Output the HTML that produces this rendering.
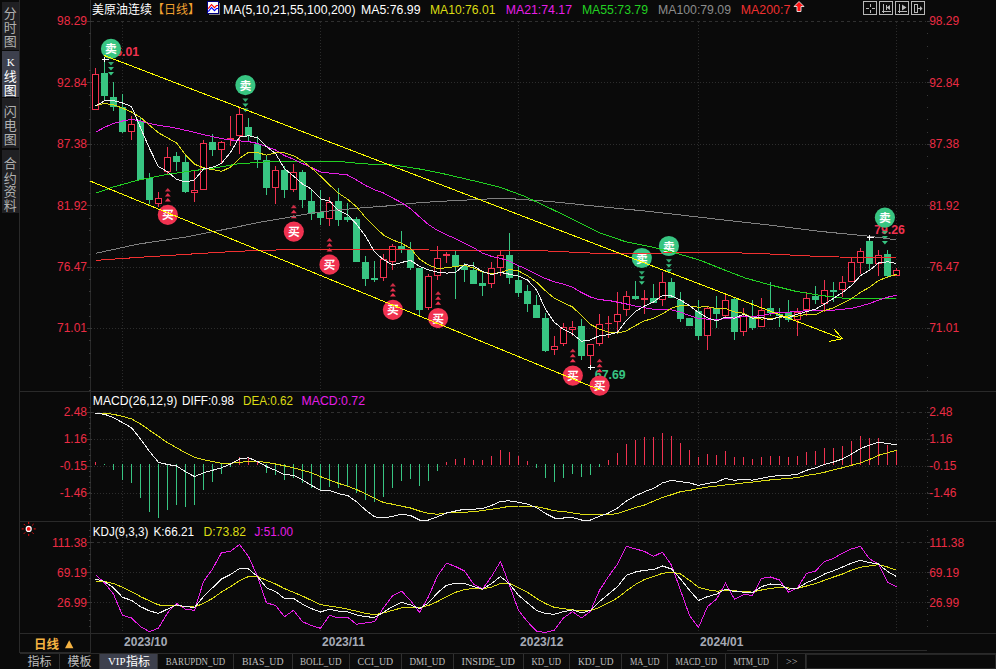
<!DOCTYPE html>
<html><head><meta charset="utf-8"><title>chart</title>
<style>html,body{margin:0;padding:0;background:#0a0a0a;overflow:hidden}svg{display:block}text{font-family:"Liberation Sans","Noto Sans CJK SC",sans-serif;white-space:pre}</style>
</head><body>
<svg width="996" height="669" viewBox="0 0 996 669">
<rect width="996" height="669" fill="#0a0a0a"/>
<g shape-rendering="crispEdges">
<rect x="2" y="2" width="18" height="48" fill="#202023"/>
<rect x="2" y="51" width="18" height="46" fill="#3d404d"/>
<rect x="2" y="98" width="18" height="50" fill="#202023"/>
<rect x="2" y="150" width="18" height="63" fill="#202023"/>
</g>
<text x="3.7" y="17.6" fill="#b0b0b0" font-size="13">分</text><text x="3.7" y="32.3" fill="#b0b0b0" font-size="13">时</text><text x="3.7" y="46.3" fill="#b0b0b0" font-size="13">图</text>
<text x="3.7" y="81.3" fill="#ffffff" font-size="13">线</text><text x="3.7" y="95.3" fill="#ffffff" font-size="13">图</text>
<text x="10.7" y="66.0" fill="#ffffff" font-size="11" text-anchor="middle" style="font-family:'Liberation Serif'">K</text>
<text x="3.7" y="115.8" fill="#b0b0b0" font-size="13">闪</text><text x="3.7" y="130.3" fill="#b0b0b0" font-size="13">电</text><text x="3.7" y="144.0" fill="#b0b0b0" font-size="13">图</text>
<text x="3.7" y="168.3" fill="#b0b0b0" font-size="13">合</text><text x="3.7" y="182.6" fill="#b0b0b0" font-size="13">约</text><text x="3.7" y="196.3" fill="#b0b0b0" font-size="13">资</text><text x="3.7" y="210.0" fill="#b0b0b0" font-size="13">料</text>
<g shape-rendering="crispEdges" stroke="#2a2a2a" stroke-width="1" fill="none">
<path d="M19.5 0V653 M90.5 0V652.5"/>
<path d="M20 391.5H996 M20 521.5H996 M20 633.5H996 M20 652.5H90 M727 650.5H927"/>
</g>
<g shape-rendering="crispEdges" stroke="#2d2d2d" stroke-width="1" fill="none">
<path d="M91 21.5H926" stroke-dasharray="3 3" stroke="#303030"/>
<path d="M91 82.5H926" stroke-dasharray="1 2"/>
<path d="M91 144.5H926" stroke-dasharray="1 2"/>
<path d="M91 205.5H926" stroke-dasharray="1 2"/>
<path d="M91 267.5H926" stroke-dasharray="1 2"/>
<path d="M91 328.5H926" stroke-dasharray="1 2"/>
<path d="M91 412.5H926" stroke-dasharray="3 3" stroke="#303030"/>
<path d="M91 439.5H926" stroke-dasharray="1 2"/>
<path d="M91 466.5H926" stroke-dasharray="1 2"/>
<path d="M91 493.5H926" stroke-dasharray="1 2"/>
<path d="M91 542.5H926" stroke-dasharray="3 3" stroke="#303030"/>
<path d="M91 572.5H926" stroke-dasharray="1 2"/>
<path d="M91 602.5H926" stroke-dasharray="1 2"/>
<path d="M122.5 22V391 M122.5 392V521 M122.5 522V633" stroke-dasharray="1 2" stroke="#2b2b2b"/>
<path d="M320.5 22V391 M320.5 392V521 M320.5 522V633" stroke-dasharray="1 2" stroke="#2b2b2b"/>
<path d="M518.5 22V391 M518.5 392V521 M518.5 522V633" stroke-dasharray="1 2" stroke="#2b2b2b"/>
<path d="M698.5 22V391 M698.5 392V521 M698.5 522V633" stroke-dasharray="1 2" stroke="#2b2b2b"/>
<path d="M896.5 22V391 M896.5 392V521 M896.5 522V633" stroke-dasharray="1 2" stroke="#2b2b2b"/>
<path d="M89 21.5H91 M927 21.5H928 M89 33.5H91 M927 33.5H928 M89 46.5H91 M927 46.5H928 M89 58.5H91 M927 58.5H928 M89 70.5H91 M927 70.5H928 M89 82.5H91 M927 82.5H928 M89 95.5H91 M927 95.5H928 M89 107.5H91 M927 107.5H928 M89 119.5H91 M927 119.5H928 M89 132.5H91 M927 132.5H928 M89 144.5H91 M927 144.5H928 M89 156.5H91 M927 156.5H928 M89 168.5H91 M927 168.5H928 M89 181.5H91 M927 181.5H928 M89 193.5H91 M927 193.5H928 M89 205.5H91 M927 205.5H928 M89 218.5H91 M927 218.5H928 M89 230.5H91 M927 230.5H928 M89 242.5H91 M927 242.5H928 M89 254.5H91 M927 254.5H928 M89 267.5H91 M927 267.5H928 M89 279.5H91 M927 279.5H928 M89 291.5H91 M927 291.5H928 M89 304.5H91 M927 304.5H928 M89 316.5H91 M927 316.5H928 M89 328.5H91 M927 328.5H928 M89 340.5H91 M927 340.5H928 M89 353.5H91 M927 353.5H928 M89 365.5H91 M927 365.5H928 M89 377.5H91 M927 377.5H928 M89 390.5H91 M927 390.5H928 M89 407.5H91 M927 407.5H928 M89 412.5H91 M927 412.5H928 M89 417.5H91 M927 417.5H928 M89 423.5H91 M927 423.5H928 M89 428.5H91 M927 428.5H928 M89 433.5H91 M927 433.5H928 M89 439.5H91 M927 439.5H928 M89 444.5H91 M927 444.5H928 M89 449.5H91 M927 449.5H928 M89 455.5H91 M927 455.5H928 M89 460.5H91 M927 460.5H928 M89 466.5H91 M927 466.5H928 M89 471.5H91 M927 471.5H928 M89 476.5H91 M927 476.5H928 M89 482.5H91 M927 482.5H928 M89 487.5H91 M927 487.5H928 M89 492.5H91 M927 492.5H928 M89 498.5H91 M927 498.5H928 M89 503.5H91 M927 503.5H928 M89 508.5H91 M927 508.5H928 M89 514.5H91 M927 514.5H928 M89 530.5H91 M927 530.5H928 M89 536.5H91 M927 536.5H928 M89 542.5H91 M927 542.5H928 M89 548.5H91 M927 548.5H928 M89 554.5H91 M927 554.5H928 M89 560.5H91 M927 560.5H928 M89 566.5H91 M927 566.5H928 M89 572.5H91 M927 572.5H928 M89 578.5H91 M927 578.5H928 M89 584.5H91 M927 584.5H928 M89 590.5H91 M927 590.5H928 M89 596.5H91 M927 596.5H928 M89 602.5H91 M927 602.5H928 M89 608.5H91 M927 608.5H928 M89 614.5H91 M927 614.5H928 M89 620.5H91 M927 620.5H928 M89 626.5H91 M927 626.5H928 M87 21.5H92 M927 21.5H930 M87 82.5H92 M927 82.5H930 M87 144.5H92 M927 144.5H930 M87 205.5H92 M927 205.5H930 M87 267.5H92 M927 267.5H930 M87 328.5H92 M927 328.5H930 M87 412.5H92 M927 412.5H930 M87 439.5H92 M927 439.5H930 M87 466.5H92 M927 466.5H930 M87 493.5H92 M927 493.5H930 M87 542.5H92 M927 542.5H930 M87 572.5H92 M927 572.5H930 M87 602.5H92 M927 602.5H930" stroke="#383838"/>
</g>
<g font-size="12">
<text x="87.0" y="25.3" fill="#ea2c44" font-size="12" text-anchor="end">98.29</text>
<text x="929.2" y="25.3" fill="#ea2c44" font-size="12">98.29</text>
<text x="87.0" y="86.7" fill="#ea2c44" font-size="12" text-anchor="end">92.84</text>
<text x="929.2" y="86.7" fill="#ea2c44" font-size="12">92.84</text>
<text x="87.0" y="148.1" fill="#ea2c44" font-size="12" text-anchor="end">87.38</text>
<text x="929.2" y="148.1" fill="#ea2c44" font-size="12">87.38</text>
<text x="87.0" y="209.6" fill="#ea2c44" font-size="12" text-anchor="end">81.92</text>
<text x="929.2" y="209.6" fill="#ea2c44" font-size="12">81.92</text>
<text x="87.0" y="271.0" fill="#ea2c44" font-size="12" text-anchor="end">76.47</text>
<text x="929.2" y="271.0" fill="#ea2c44" font-size="12">76.47</text>
<text x="87.0" y="332.4" fill="#ea2c44" font-size="12" text-anchor="end">71.01</text>
<text x="929.2" y="332.4" fill="#ea2c44" font-size="12">71.01</text>
<text x="87.0" y="416.3" fill="#ea2c44" font-size="12" text-anchor="end">2.48</text>
<text x="929.2" y="416.3" fill="#ea2c44" font-size="12">2.48</text>
<text x="87.0" y="443.3" fill="#ea2c44" font-size="12" text-anchor="end">1.16</text>
<text x="929.2" y="443.3" fill="#ea2c44" font-size="12">1.16</text>
<text x="87.0" y="470.3" fill="#ea2c44" font-size="12" text-anchor="end">-0.15</text>
<text x="929.2" y="470.3" fill="#ea2c44" font-size="12">-0.15</text>
<text x="87.0" y="497.3" fill="#ea2c44" font-size="12" text-anchor="end">-1.46</text>
<text x="929.2" y="497.3" fill="#ea2c44" font-size="12">-1.46</text>
<text x="87.0" y="546.7" fill="#ea2c44" font-size="12" text-anchor="end">111.38</text>
<text x="929.2" y="546.7" fill="#ea2c44" font-size="12">111.38</text>
<text x="87.0" y="576.7" fill="#ea2c44" font-size="12" text-anchor="end">69.19</text>
<text x="929.2" y="576.7" fill="#ea2c44" font-size="12">69.19</text>
<text x="87.0" y="606.7" fill="#ea2c44" font-size="12" text-anchor="end">26.99</text>
<text x="929.2" y="606.7" fill="#ea2c44" font-size="12">26.99</text>
</g>
<text x="108.3" y="56.0" fill="#f03250" font-size="12.3" font-weight="bold">96.01</text>
<text x="594.8" y="378.5" fill="#38c582" font-size="12.3" font-weight="bold">67.69</text>
<text x="874.2" y="234.0" fill="#f03250" font-size="12.3" font-weight="bold">79.26</text>
<g shape-rendering="crispEdges">
<rect x="95" y="68" width="1" height="6" fill="#f03250"/>
<rect x="92.5" y="74.5" width="6" height="35" fill="#000" stroke="#f03250" stroke-width="1"/>
<rect x="104" y="59" width="1" height="41" fill="#38c582"/>
<rect x="101" y="73" width="7" height="23" fill="#38c582"/>
<rect x="113" y="82" width="1" height="29" fill="#38c582"/>
<rect x="110" y="97" width="7" height="10" fill="#38c582"/>
<rect x="122" y="94" width="1" height="39" fill="#38c582"/>
<rect x="119" y="107" width="7" height="25" fill="#38c582"/>
<rect x="131" y="116" width="1" height="8" fill="#f03250"/>
<rect x="131" y="132" width="1" height="8" fill="#f03250"/>
<rect x="128.5" y="124.5" width="6" height="7" fill="#000" stroke="#f03250" stroke-width="1"/>
<rect x="140" y="118" width="1" height="62" fill="#38c582"/>
<rect x="137" y="121" width="7" height="59" fill="#38c582"/>
<rect x="149" y="173" width="1" height="31" fill="#38c582"/>
<rect x="146" y="178" width="7" height="22" fill="#38c582"/>
<rect x="158" y="192" width="1" height="6" fill="#f03250"/>
<rect x="158" y="204" width="1" height="3" fill="#f03250"/>
<rect x="155.5" y="198.5" width="6" height="5" fill="#000" stroke="#f03250" stroke-width="1"/>
<rect x="167" y="147" width="1" height="10" fill="#f03250"/>
<rect x="167" y="172" width="1" height="2" fill="#f03250"/>
<rect x="164.5" y="157.5" width="6" height="14" fill="#000" stroke="#f03250" stroke-width="1"/>
<rect x="176" y="152" width="1" height="19" fill="#38c582"/>
<rect x="173" y="156" width="7" height="6" fill="#38c582"/>
<rect x="185" y="156" width="1" height="37" fill="#38c582"/>
<rect x="182" y="162" width="7" height="30" fill="#38c582"/>
<rect x="194" y="170" width="1" height="20" fill="#f03250"/>
<rect x="194" y="193" width="1" height="9" fill="#f03250"/>
<rect x="191.5" y="190.5" width="6" height="2" fill="#000" stroke="#f03250" stroke-width="1"/>
<rect x="203" y="140" width="1" height="3" fill="#f03250"/>
<rect x="200.5" y="143.5" width="6" height="46" fill="#000" stroke="#f03250" stroke-width="1"/>
<rect x="212" y="134" width="1" height="22" fill="#38c582"/>
<rect x="209" y="142" width="7" height="8" fill="#38c582"/>
<rect x="221" y="141" width="1" height="1" fill="#f03250"/>
<rect x="221" y="150" width="1" height="14" fill="#f03250"/>
<rect x="218.5" y="142.5" width="6" height="7" fill="#000" stroke="#f03250" stroke-width="1"/>
<rect x="230" y="116" width="1" height="22" fill="#f03250"/>
<rect x="230" y="140" width="1" height="6" fill="#f03250"/>
<rect x="227" y="138" width="7" height="2" fill="#f03250"/>
<rect x="239" y="108" width="1" height="6" fill="#f03250"/>
<rect x="239" y="136" width="1" height="18" fill="#f03250"/>
<rect x="236.5" y="114.5" width="6" height="21" fill="#000" stroke="#f03250" stroke-width="1"/>
<rect x="248" y="118" width="1" height="24" fill="#38c582"/>
<rect x="245" y="127" width="7" height="9" fill="#38c582"/>
<rect x="257" y="136" width="1" height="32" fill="#38c582"/>
<rect x="254" y="144" width="7" height="16" fill="#38c582"/>
<rect x="266" y="156" width="1" height="39" fill="#38c582"/>
<rect x="263" y="160" width="7" height="28" fill="#38c582"/>
<rect x="275" y="166" width="1" height="4" fill="#f03250"/>
<rect x="275" y="188" width="1" height="16" fill="#f03250"/>
<rect x="272.5" y="170.5" width="6" height="17" fill="#000" stroke="#f03250" stroke-width="1"/>
<rect x="284" y="166" width="1" height="32" fill="#38c582"/>
<rect x="281" y="170" width="7" height="20" fill="#38c582"/>
<rect x="293" y="164" width="1" height="8" fill="#f03250"/>
<rect x="293" y="190" width="1" height="2" fill="#f03250"/>
<rect x="290.5" y="172.5" width="6" height="17" fill="#000" stroke="#f03250" stroke-width="1"/>
<rect x="302" y="170" width="1" height="38" fill="#38c582"/>
<rect x="299" y="172" width="7" height="28" fill="#38c582"/>
<rect x="311" y="190" width="1" height="30" fill="#38c582"/>
<rect x="308" y="201" width="7" height="13" fill="#38c582"/>
<rect x="320" y="190" width="1" height="35" fill="#38c582"/>
<rect x="317" y="212" width="7" height="6" fill="#38c582"/>
<rect x="329" y="197" width="1" height="5" fill="#f03250"/>
<rect x="329" y="219" width="1" height="7" fill="#f03250"/>
<rect x="326.5" y="202.5" width="6" height="16" fill="#000" stroke="#f03250" stroke-width="1"/>
<rect x="338" y="188" width="1" height="38" fill="#38c582"/>
<rect x="335" y="201" width="7" height="19" fill="#38c582"/>
<rect x="347" y="203" width="1" height="19" fill="#38c582"/>
<rect x="344" y="217" width="7" height="3" fill="#38c582"/>
<rect x="356" y="217" width="1" height="45" fill="#38c582"/>
<rect x="353" y="219" width="7" height="43" fill="#38c582"/>
<rect x="365" y="256" width="1" height="30" fill="#38c582"/>
<rect x="362" y="262" width="7" height="17" fill="#38c582"/>
<rect x="374" y="261" width="1" height="21" fill="#38c582"/>
<rect x="371" y="278" width="7" height="2" fill="#38c582"/>
<rect x="383" y="254" width="1" height="5" fill="#f03250"/>
<rect x="383" y="278" width="1" height="3" fill="#f03250"/>
<rect x="380.5" y="259.5" width="6" height="18" fill="#000" stroke="#f03250" stroke-width="1"/>
<rect x="392" y="244" width="1" height="2" fill="#f03250"/>
<rect x="392" y="262" width="1" height="8" fill="#f03250"/>
<rect x="389.5" y="246.5" width="6" height="15" fill="#000" stroke="#f03250" stroke-width="1"/>
<rect x="401" y="231" width="1" height="22" fill="#38c582"/>
<rect x="398" y="246" width="7" height="3" fill="#38c582"/>
<rect x="410" y="242" width="1" height="28" fill="#38c582"/>
<rect x="407" y="249" width="7" height="19" fill="#38c582"/>
<rect x="419" y="268" width="1" height="48" fill="#38c582"/>
<rect x="416" y="268" width="7" height="42" fill="#38c582"/>
<rect x="428" y="274" width="1" height="2" fill="#f03250"/>
<rect x="428" y="308" width="1" height="2" fill="#f03250"/>
<rect x="425.5" y="276.5" width="6" height="31" fill="#000" stroke="#f03250" stroke-width="1"/>
<rect x="437" y="246" width="1" height="12" fill="#f03250"/>
<rect x="437" y="276" width="1" height="4" fill="#f03250"/>
<rect x="434.5" y="258.5" width="6" height="17" fill="#000" stroke="#f03250" stroke-width="1"/>
<rect x="446" y="252" width="1" height="2" fill="#f03250"/>
<rect x="446" y="256" width="1" height="7" fill="#f03250"/>
<rect x="443" y="254" width="7" height="2" fill="#f03250"/>
<rect x="455" y="251" width="1" height="48" fill="#38c582"/>
<rect x="452" y="255" width="7" height="11" fill="#38c582"/>
<rect x="464" y="263" width="1" height="19" fill="#38c582"/>
<rect x="461" y="266" width="7" height="4" fill="#38c582"/>
<rect x="473" y="262" width="1" height="22" fill="#38c582"/>
<rect x="470" y="270" width="7" height="14" fill="#38c582"/>
<rect x="482" y="272" width="1" height="24" fill="#38c582"/>
<rect x="479" y="283" width="7" height="3" fill="#38c582"/>
<rect x="491" y="262" width="1" height="6" fill="#f03250"/>
<rect x="491" y="284" width="1" height="4" fill="#f03250"/>
<rect x="488.5" y="268.5" width="6" height="15" fill="#000" stroke="#f03250" stroke-width="1"/>
<rect x="500" y="251" width="1" height="4" fill="#f03250"/>
<rect x="500" y="268" width="1" height="8" fill="#f03250"/>
<rect x="497.5" y="255.5" width="6" height="12" fill="#000" stroke="#f03250" stroke-width="1"/>
<rect x="509" y="233" width="1" height="51" fill="#38c582"/>
<rect x="506" y="255" width="7" height="23" fill="#38c582"/>
<rect x="518" y="266" width="1" height="31" fill="#38c582"/>
<rect x="515" y="280" width="7" height="13" fill="#38c582"/>
<rect x="527" y="285" width="1" height="27" fill="#38c582"/>
<rect x="524" y="291" width="7" height="13" fill="#38c582"/>
<rect x="536" y="295" width="1" height="23" fill="#38c582"/>
<rect x="533" y="305" width="7" height="13" fill="#38c582"/>
<rect x="545" y="313" width="1" height="39" fill="#38c582"/>
<rect x="542" y="318" width="7" height="33" fill="#38c582"/>
<rect x="554" y="336" width="1" height="10" fill="#f03250"/>
<rect x="554" y="350" width="1" height="5" fill="#f03250"/>
<rect x="551.5" y="346.5" width="6" height="3" fill="#000" stroke="#f03250" stroke-width="1"/>
<rect x="563" y="323" width="1" height="4" fill="#f03250"/>
<rect x="563" y="344" width="1" height="2" fill="#f03250"/>
<rect x="560.5" y="327.5" width="6" height="16" fill="#000" stroke="#f03250" stroke-width="1"/>
<rect x="572" y="321" width="1" height="6" fill="#f03250"/>
<rect x="572" y="330" width="1" height="6" fill="#f03250"/>
<rect x="569.5" y="327.5" width="6" height="2" fill="#000" stroke="#f03250" stroke-width="1"/>
<rect x="581" y="319" width="1" height="41" fill="#38c582"/>
<rect x="578" y="326" width="7" height="30" fill="#38c582"/>
<rect x="590" y="356" width="1" height="12" fill="#f03250"/>
<rect x="587.5" y="344.5" width="6" height="11" fill="#000" stroke="#f03250" stroke-width="1"/>
<rect x="599" y="314" width="1" height="10" fill="#f03250"/>
<rect x="599" y="344" width="1" height="2" fill="#f03250"/>
<rect x="596.5" y="324.5" width="6" height="19" fill="#000" stroke="#f03250" stroke-width="1"/>
<rect x="608" y="316" width="1" height="7" fill="#f03250"/>
<rect x="608" y="324" width="1" height="14" fill="#f03250"/>
<rect x="605" y="323" width="7" height="1" fill="#f03250"/>
<rect x="617" y="292" width="1" height="22" fill="#f03250"/>
<rect x="617" y="322" width="1" height="11" fill="#f03250"/>
<rect x="614.5" y="314.5" width="6" height="7" fill="#000" stroke="#f03250" stroke-width="1"/>
<rect x="626" y="291" width="1" height="5" fill="#f03250"/>
<rect x="626" y="310" width="1" height="6" fill="#f03250"/>
<rect x="623.5" y="296.5" width="6" height="13" fill="#000" stroke="#f03250" stroke-width="1"/>
<rect x="635" y="281" width="1" height="19" fill="#38c582"/>
<rect x="632" y="296" width="7" height="3" fill="#38c582"/>
<rect x="644" y="290" width="1" height="8" fill="#f03250"/>
<rect x="644" y="300" width="1" height="14" fill="#f03250"/>
<rect x="641" y="298" width="7" height="2" fill="#f03250"/>
<rect x="653" y="284" width="1" height="19" fill="#38c582"/>
<rect x="650" y="298" width="7" height="5" fill="#38c582"/>
<rect x="662" y="272" width="1" height="10" fill="#f03250"/>
<rect x="662" y="300" width="1" height="6" fill="#f03250"/>
<rect x="659.5" y="282.5" width="6" height="17" fill="#000" stroke="#f03250" stroke-width="1"/>
<rect x="671" y="278" width="1" height="20" fill="#38c582"/>
<rect x="668" y="282" width="7" height="16" fill="#38c582"/>
<rect x="680" y="292" width="1" height="30" fill="#38c582"/>
<rect x="677" y="300" width="7" height="19" fill="#38c582"/>
<rect x="686" y="318" width="7" height="8" fill="#38c582"/>
<rect x="698" y="300" width="1" height="40" fill="#38c582"/>
<rect x="695" y="311" width="7" height="25" fill="#38c582"/>
<rect x="707" y="306" width="1" height="2" fill="#f03250"/>
<rect x="707" y="336" width="1" height="14" fill="#f03250"/>
<rect x="704.5" y="308.5" width="6" height="27" fill="#000" stroke="#f03250" stroke-width="1"/>
<rect x="716" y="296" width="1" height="32" fill="#38c582"/>
<rect x="713" y="308" width="7" height="6" fill="#38c582"/>
<rect x="725" y="294" width="1" height="6" fill="#f03250"/>
<rect x="725" y="316" width="1" height="1" fill="#f03250"/>
<rect x="722.5" y="300.5" width="6" height="15" fill="#000" stroke="#f03250" stroke-width="1"/>
<rect x="734" y="298" width="1" height="42" fill="#38c582"/>
<rect x="731" y="299" width="7" height="33" fill="#38c582"/>
<rect x="743" y="308" width="1" height="8" fill="#f03250"/>
<rect x="743" y="332" width="1" height="4" fill="#f03250"/>
<rect x="740.5" y="316.5" width="6" height="15" fill="#000" stroke="#f03250" stroke-width="1"/>
<rect x="752" y="300" width="1" height="30" fill="#38c582"/>
<rect x="749" y="316" width="7" height="12" fill="#38c582"/>
<rect x="761" y="298" width="1" height="12" fill="#f03250"/>
<rect x="758.5" y="310.5" width="6" height="16" fill="#000" stroke="#f03250" stroke-width="1"/>
<rect x="770" y="282" width="1" height="34" fill="#38c582"/>
<rect x="767" y="308" width="7" height="5" fill="#38c582"/>
<rect x="779" y="308" width="1" height="19" fill="#38c582"/>
<rect x="776" y="314" width="7" height="2" fill="#38c582"/>
<rect x="788" y="300" width="1" height="22" fill="#38c582"/>
<rect x="785" y="312" width="7" height="8" fill="#38c582"/>
<rect x="797" y="308" width="1" height="4" fill="#f03250"/>
<rect x="797" y="320" width="1" height="16" fill="#f03250"/>
<rect x="794.5" y="312.5" width="6" height="7" fill="#000" stroke="#f03250" stroke-width="1"/>
<rect x="806" y="292" width="1" height="6" fill="#f03250"/>
<rect x="806" y="310" width="1" height="6" fill="#f03250"/>
<rect x="803.5" y="298.5" width="6" height="11" fill="#000" stroke="#f03250" stroke-width="1"/>
<rect x="815" y="286" width="1" height="18" fill="#38c582"/>
<rect x="812" y="296" width="7" height="4" fill="#38c582"/>
<rect x="824" y="280" width="1" height="10" fill="#f03250"/>
<rect x="824" y="304" width="1" height="8" fill="#f03250"/>
<rect x="821.5" y="290.5" width="6" height="13" fill="#000" stroke="#f03250" stroke-width="1"/>
<rect x="833" y="282" width="1" height="20" fill="#38c582"/>
<rect x="830" y="290" width="7" height="2" fill="#38c582"/>
<rect x="842" y="276" width="1" height="6" fill="#f03250"/>
<rect x="842" y="290" width="1" height="7" fill="#f03250"/>
<rect x="839.5" y="282.5" width="6" height="7" fill="#000" stroke="#f03250" stroke-width="1"/>
<rect x="851" y="258" width="1" height="4" fill="#f03250"/>
<rect x="848.5" y="262.5" width="6" height="19" fill="#000" stroke="#f03250" stroke-width="1"/>
<rect x="860" y="248" width="1" height="3" fill="#f03250"/>
<rect x="860" y="263" width="1" height="11" fill="#f03250"/>
<rect x="857.5" y="251.5" width="6" height="11" fill="#000" stroke="#f03250" stroke-width="1"/>
<rect x="869" y="237" width="1" height="33" fill="#38c582"/>
<rect x="866" y="241" width="7" height="23" fill="#38c582"/>
<rect x="878" y="250" width="1" height="5" fill="#f03250"/>
<rect x="878" y="264" width="1" height="12" fill="#f03250"/>
<rect x="875.5" y="255.5" width="6" height="8" fill="#000" stroke="#f03250" stroke-width="1"/>
<rect x="887" y="250" width="1" height="28" fill="#38c582"/>
<rect x="884" y="254" width="7" height="22" fill="#38c582"/>
<rect x="896" y="268" width="1" height="2" fill="#f03250"/>
<rect x="893.5" y="270.5" width="6" height="5" fill="#000" stroke="#f03250" stroke-width="1"/>
</g>
<circle cx="111.0" cy="48.8" r="10.1" fill="#38c582"/><text x="105.1" y="53.4" fill="#fff" font-size="11.8" font-weight="bold">卖</text><path d="M108.0 62.1h6l-3 3.5z" fill="#38c582" opacity="0.85"/><path d="M108.0 67.1h6l-3 3.5z" fill="#38c582" opacity="0.95"/><path d="M108.0 72.1h6l-3 3.5z" fill="#38c582" opacity="1"/>
<circle cx="245.4" cy="85.1" r="10.1" fill="#38c582"/><text x="239.5" y="89.7" fill="#fff" font-size="11.8" font-weight="bold">卖</text><path d="M242.4 98.4h6l-3 3.5z" fill="#38c582" opacity="0.85"/><path d="M242.4 103.4h6l-3 3.5z" fill="#38c582" opacity="0.95"/><path d="M242.4 108.4h6l-3 3.5z" fill="#38c582" opacity="1"/>
<circle cx="641.8" cy="258.0" r="10.1" fill="#38c582"/><text x="635.9" y="262.6" fill="#fff" font-size="11.8" font-weight="bold">卖</text><path d="M638.8 271.3h6l-3 3.5z" fill="#38c582" opacity="0.85"/><path d="M638.8 276.3h6l-3 3.5z" fill="#38c582" opacity="0.95"/><path d="M638.8 281.3h6l-3 3.5z" fill="#38c582" opacity="1"/>
<circle cx="668.9" cy="246.0" r="10.1" fill="#38c582"/><text x="663.0" y="250.6" fill="#fff" font-size="11.8" font-weight="bold">卖</text><path d="M665.9 259.3h6l-3 3.5z" fill="#38c582" opacity="0.85"/><path d="M665.9 264.3h6l-3 3.5z" fill="#38c582" opacity="0.95"/><path d="M665.9 269.3h6l-3 3.5z" fill="#38c582" opacity="1"/>
<circle cx="884.9" cy="217.6" r="10.1" fill="#38c582"/><text x="879.0" y="222.2" fill="#fff" font-size="11.8" font-weight="bold">卖</text><path d="M881.9 230.9h6l-3 3.5z" fill="#38c582" opacity="0.85"/><path d="M881.9 235.9h6l-3 3.5z" fill="#38c582" opacity="0.95"/><path d="M881.9 240.9h6l-3 3.5z" fill="#38c582" opacity="1"/>
<circle cx="167.8" cy="214.8" r="10.1" fill="#f03250"/><text x="161.9" y="219.4" fill="#fff" font-size="11.8" font-weight="bold">买</text><path d="M164.8 201.5h6l-3 -3.5z" fill="#f03250" opacity="1"/><path d="M164.8 196.5h6l-3 -3.5z" fill="#f03250" opacity="0.95"/><path d="M164.8 191.5h6l-3 -3.5z" fill="#f03250" opacity="0.85"/>
<circle cx="293.8" cy="231.6" r="10.1" fill="#f03250"/><text x="287.9" y="236.2" fill="#fff" font-size="11.8" font-weight="bold">买</text><path d="M290.8 218.3h6l-3 -3.5z" fill="#f03250" opacity="1"/><path d="M290.8 213.3h6l-3 -3.5z" fill="#f03250" opacity="0.95"/><path d="M290.8 208.3h6l-3 -3.5z" fill="#f03250" opacity="0.85"/>
<circle cx="329.5" cy="264.7" r="10.1" fill="#f03250"/><text x="323.6" y="269.3" fill="#fff" font-size="11.8" font-weight="bold">买</text><path d="M326.5 251.4h6l-3 -3.5z" fill="#f03250" opacity="1"/><path d="M326.5 246.4h6l-3 -3.5z" fill="#f03250" opacity="0.95"/><path d="M326.5 241.4h6l-3 -3.5z" fill="#f03250" opacity="0.85"/>
<circle cx="392.9" cy="309.8" r="10.1" fill="#f03250"/><text x="387.0" y="314.4" fill="#fff" font-size="11.8" font-weight="bold">买</text><path d="M389.9 296.5h6l-3 -3.5z" fill="#f03250" opacity="1"/><path d="M389.9 291.5h6l-3 -3.5z" fill="#f03250" opacity="0.95"/><path d="M389.9 286.5h6l-3 -3.5z" fill="#f03250" opacity="0.85"/>
<circle cx="438.1" cy="318.1" r="10.1" fill="#f03250"/><text x="432.2" y="322.7" fill="#fff" font-size="11.8" font-weight="bold">买</text><path d="M435.1 304.8h6l-3 -3.5z" fill="#f03250" opacity="1"/><path d="M435.1 299.8h6l-3 -3.5z" fill="#f03250" opacity="0.95"/><path d="M435.1 294.8h6l-3 -3.5z" fill="#f03250" opacity="0.85"/>
<circle cx="572.8" cy="375.6" r="10.1" fill="#f03250"/><text x="566.9" y="380.2" fill="#fff" font-size="11.8" font-weight="bold">买</text><path d="M569.8 362.3h6l-3 -3.5z" fill="#f03250" opacity="1"/><path d="M569.8 357.3h6l-3 -3.5z" fill="#f03250" opacity="0.95"/><path d="M569.8 352.3h6l-3 -3.5z" fill="#f03250" opacity="0.85"/>
<circle cx="599.6" cy="385.6" r="10.1" fill="#f03250"/><text x="593.7" y="390.2" fill="#fff" font-size="11.8" font-weight="bold">买</text><path d="M596.6 372.3h6l-3 -3.5z" fill="#f03250" opacity="1"/><path d="M596.6 367.3h6l-3 -3.5z" fill="#f03250" opacity="0.95"/><path d="M596.6 362.3h6l-3 -3.5z" fill="#f03250" opacity="0.85"/>
<g stroke-linejoin="round" shape-rendering="crispEdges">
<polyline points="95.5,260.4 138.2,257.4 188.4,254.2 238.6,251.2 288.8,249.6 338.0,249.3 400.0,249.8 500.0,250.5 537.6,250.5 600.0,253.5 650.0,253.5 675.7,252.5 720.0,252.2 770.0,254.0 820.0,256.5 870.0,257.8 896.0,257.8" fill="none" stroke="#f03030" stroke-width="1" />
<polyline points="95.5,253.4 138.2,244.1 188.4,236.6 213.5,231.6 238.6,226.6 263.7,221.5 288.8,217.3 313.9,212.7 338.0,210.0 363.0,207.7 388.0,205.9 413.5,203.2 438.6,201.4 463.7,200.2 488.8,198.9 514.0,198.9 550.0,201.5 600.0,206.6 650.6,211.6 700.8,217.3 720.0,219.6 770.0,225.1 820.4,231.4 870.6,236.4 895.7,239.7" fill="none" stroke="#808080" stroke-width="1" />
<polyline points="95.5,193.2 113.0,187.1 138.2,180.1 163.3,175.1 188.4,171.3 213.5,168.1 238.6,163.8 263.7,162.0 288.8,161.8 338.0,161.3 363.3,163.8 393.4,165.0 418.5,168.8 443.6,173.8 468.7,179.6 493.8,185.6 500.0,187.2 525.0,196.5 550.0,208.3 575.0,220.4 600.0,232.9 625.5,241.7 650.6,246.7 675.7,253.0 700.8,260.5 726.0,270.6 745.0,277.9 770.0,284.9 795.3,291.2 820.4,295.4 845.5,298.4 870.6,298.4 895.7,298.4" fill="none" stroke="#22d022" stroke-width="1" />
<polyline points="95.5,132.3 104.5,127.3 113.5,123.5 122.5,121.0 131.5,119.5 140.5,120.8 149.5,123.5 158.5,125.3 167.5,126.6 176.5,128.3 185.5,130.3 194.5,132.3 203.5,134.6 212.5,136.6 221.5,138.6 230.5,139.9 239.5,140.9 248.5,141.6 257.5,143.4 266.5,146.6 275.5,150.0 284.5,155.6 293.5,159.2 302.5,163.6 311.5,167.5 320.5,172.0 329.5,173.1 338.5,174.0 347.5,175.0 356.5,180.0 365.5,185.5 374.5,189.7 383.5,193.0 392.5,197.9 401.5,202.6 410.5,208.6 419.5,216.8 428.5,224.6 437.5,230.4 446.5,234.9 455.5,238.6 464.5,243.3 473.5,247.7 482.5,253.1 491.5,256.4 500.5,258.4 509.5,261.2 518.5,265.6 527.5,269.6 536.5,274.4 545.5,278.6 554.5,281.8 563.5,284.1 572.5,287.3 581.5,292.5 590.5,297.0 599.5,299.7 608.5,300.4 617.5,302.2 626.5,304.0 635.5,306.1 644.5,307.7 653.5,309.3 662.5,309.2 671.5,309.8 680.5,312.2 689.5,315.6 698.5,318.4 707.5,319.1 716.5,319.6 725.5,318.7 734.5,317.8 743.5,316.4 752.5,316.4 761.5,315.6 770.5,313.6 779.5,312.3 788.5,312.1 797.5,311.5 806.5,310.7 815.5,311.0 824.5,310.5 833.5,310.2 842.5,309.3 851.5,308.4 860.5,306.1 869.5,303.5 878.5,300.1 887.5,297.2 896.5,295.4" fill="none" stroke="#e61ee6" stroke-width="1" />
<polyline points="95.5,105.7 104.5,103.5 113.5,104.7 122.5,108.2 131.5,112.0 140.5,117.3 149.5,125.3 158.5,132.8 167.5,137.9 176.5,142.9 185.5,154.8 194.5,164.2 203.5,167.8 212.5,169.6 221.5,171.4 230.5,167.2 239.5,158.5 248.5,152.3 257.5,152.6 266.5,155.1 275.5,152.9 284.5,152.9 293.5,155.8 302.5,160.8 311.5,168.0 320.5,176.1 329.5,184.9 338.5,193.2 347.5,199.2 356.5,206.7 365.5,217.5 374.5,226.4 383.5,235.1 392.5,239.8 401.5,243.3 410.5,248.2 419.5,259.1 428.5,264.8 437.5,268.6 446.5,267.8 455.5,266.4 464.5,265.4 473.5,267.9 482.5,271.9 491.5,273.8 500.5,272.5 509.5,269.4 518.5,271.0 527.5,275.7 536.5,282.2 545.5,290.8 554.5,298.4 563.5,302.8 572.5,306.9 581.5,315.6 590.5,324.5 599.5,329.1 608.5,332.1 617.5,333.1 626.5,330.8 635.5,325.6 644.5,320.8 653.5,318.4 662.5,313.9 671.5,308.1 680.5,305.6 689.5,305.9 698.5,307.2 707.5,306.6 716.5,308.5 725.5,308.6 734.5,311.9 743.5,313.3 752.5,317.9 761.5,319.1 770.5,318.6 779.5,317.4 788.5,315.9 797.5,316.1 806.5,314.4 815.5,314.6 824.5,310.4 833.5,307.9 842.5,303.4 851.5,298.6 860.5,292.4 869.5,287.2 878.5,280.6 887.5,277.1 896.5,274.4" fill="none" stroke="#dcdc14" stroke-width="1" />
<polyline points="95.5,106.0 104.5,100.8 113.5,100.5 122.5,103.0 131.5,106.5 140.5,127.6 149.5,148.5 158.5,166.7 167.5,171.7 176.5,179.4 185.5,182.0 194.5,179.9 203.5,168.9 212.5,167.4 221.5,163.4 230.5,152.4 239.5,137.1 248.5,135.7 257.5,137.7 266.5,146.8 275.5,153.4 284.5,168.7 293.5,176.0 302.5,184.0 311.5,189.2 320.5,198.8 329.5,201.1 338.5,210.5 347.5,214.5 356.5,224.1 365.5,236.2 374.5,251.8 383.5,259.7 392.5,265.0 401.5,262.5 410.5,260.3 419.5,266.4 428.5,269.9 437.5,272.2 446.5,273.1 455.5,272.6 464.5,264.5 473.5,265.9 482.5,271.5 491.5,274.5 500.5,272.4 509.5,274.2 518.5,276.1 527.5,279.9 536.5,289.9 545.5,309.1 554.5,322.6 563.5,329.4 572.5,333.9 581.5,341.3 590.5,339.9 599.5,335.6 608.5,334.8 617.5,332.3 626.5,320.3 635.5,311.3 644.5,306.0 653.5,302.0 662.5,295.4 671.5,296.0 680.5,300.0 689.5,305.7 698.5,312.4 707.5,317.8 716.5,321.0 725.5,317.1 734.5,318.2 743.5,314.2 752.5,318.1 761.5,317.3 770.5,320.0 779.5,316.7 788.5,317.5 797.5,314.2 806.5,311.6 815.5,309.1 824.5,304.1 833.5,298.3 842.5,292.5 851.5,285.5 860.5,275.6 869.5,270.3 878.5,263.0 887.5,261.8 896.5,263.4" fill="none" stroke="#f0f0f0" stroke-width="1" />
<path d="M104 55.4L842.2 338.8M834.2 329.3L842.5 338.8L829.2 341.4" stroke="#ffff00" stroke-width="1" fill="none"/>
<path d="M90.5 181.2L600 390" stroke="#ffff00" stroke-width="1" fill="none"/>
</g>
<path d="M102 59.5h7M104.5 57v5 " stroke="#fff" stroke-width="1" shape-rendering="crispEdges" fill="none"/>
<path d="M588 367.5h7M590.5 365v5" stroke="#fff" stroke-width="1" shape-rendering="crispEdges" fill="none"/>
<path d="M867 237.5h7M869.5 235v5" stroke="#fff" stroke-width="1" shape-rendering="crispEdges" fill="none"/>
<g shape-rendering="crispEdges">
<rect x="95" y="462" width="1" height="3" fill="#f03250"/>
<rect x="104" y="464" width="1" height="1" fill="#38c582"/>
<rect x="113" y="464" width="1" height="6" fill="#38c582"/>
<rect x="122" y="464" width="1" height="16" fill="#38c582"/>
<rect x="131" y="464" width="1" height="19" fill="#38c582"/>
<rect x="140" y="464" width="1" height="34" fill="#38c582"/>
<rect x="149" y="464" width="1" height="48" fill="#38c582"/>
<rect x="158" y="464" width="1" height="54" fill="#38c582"/>
<rect x="167" y="464" width="1" height="46" fill="#38c582"/>
<rect x="176" y="464" width="1" height="41" fill="#38c582"/>
<rect x="185" y="464" width="1" height="43" fill="#38c582"/>
<rect x="194" y="464" width="1" height="41" fill="#38c582"/>
<rect x="203" y="464" width="1" height="26" fill="#38c582"/>
<rect x="212" y="464" width="1" height="18" fill="#38c582"/>
<rect x="221" y="464" width="1" height="10" fill="#38c582"/>
<rect x="230" y="464" width="1" height="3" fill="#38c582"/>
<rect x="239" y="457" width="1" height="8" fill="#f03250"/>
<rect x="248" y="457" width="1" height="8" fill="#f03250"/>
<rect x="257" y="462" width="1" height="3" fill="#f03250"/>
<rect x="266" y="464" width="1" height="9" fill="#38c582"/>
<rect x="275" y="464" width="1" height="11" fill="#38c582"/>
<rect x="284" y="464" width="1" height="16" fill="#38c582"/>
<rect x="293" y="464" width="1" height="14" fill="#38c582"/>
<rect x="302" y="464" width="1" height="19" fill="#38c582"/>
<rect x="311" y="464" width="1" height="24" fill="#38c582"/>
<rect x="320" y="464" width="1" height="27" fill="#38c582"/>
<rect x="329" y="464" width="1" height="23" fill="#38c582"/>
<rect x="338" y="464" width="1" height="24" fill="#38c582"/>
<rect x="347" y="464" width="1" height="23" fill="#38c582"/>
<rect x="356" y="464" width="1" height="29" fill="#38c582"/>
<rect x="365" y="464" width="1" height="36" fill="#38c582"/>
<rect x="374" y="464" width="1" height="38" fill="#38c582"/>
<rect x="383" y="464" width="1" height="33" fill="#38c582"/>
<rect x="392" y="464" width="1" height="24" fill="#38c582"/>
<rect x="401" y="464" width="1" height="17" fill="#38c582"/>
<rect x="410" y="464" width="1" height="15" fill="#38c582"/>
<rect x="419" y="464" width="1" height="22" fill="#38c582"/>
<rect x="428" y="464" width="1" height="17" fill="#38c582"/>
<rect x="437" y="464" width="1" height="7" fill="#38c582"/>
<rect x="446" y="462" width="1" height="3" fill="#f03250"/>
<rect x="455" y="459" width="1" height="6" fill="#f03250"/>
<rect x="464" y="458" width="1" height="7" fill="#f03250"/>
<rect x="473" y="460" width="1" height="5" fill="#f03250"/>
<rect x="482" y="460" width="1" height="5" fill="#f03250"/>
<rect x="491" y="456" width="1" height="9" fill="#f03250"/>
<rect x="500" y="450" width="1" height="15" fill="#f03250"/>
<rect x="509" y="452" width="1" height="13" fill="#f03250"/>
<rect x="518" y="456" width="1" height="9" fill="#f03250"/>
<rect x="527" y="461" width="1" height="4" fill="#f03250"/>
<rect x="536" y="464" width="1" height="4" fill="#38c582"/>
<rect x="545" y="464" width="1" height="14" fill="#38c582"/>
<rect x="554" y="464" width="1" height="18" fill="#38c582"/>
<rect x="563" y="464" width="1" height="14" fill="#38c582"/>
<rect x="572" y="464" width="1" height="10" fill="#38c582"/>
<rect x="581" y="464" width="1" height="13" fill="#38c582"/>
<rect x="590" y="464" width="1" height="11" fill="#38c582"/>
<rect x="599" y="464" width="1" height="3" fill="#38c582"/>
<rect x="608" y="460" width="1" height="5" fill="#f03250"/>
<rect x="617" y="453" width="1" height="12" fill="#f03250"/>
<rect x="626" y="444" width="1" height="21" fill="#f03250"/>
<rect x="635" y="440" width="1" height="25" fill="#f03250"/>
<rect x="644" y="437" width="1" height="28" fill="#f03250"/>
<rect x="653" y="437" width="1" height="28" fill="#f03250"/>
<rect x="662" y="433" width="1" height="32" fill="#f03250"/>
<rect x="671" y="436" width="1" height="29" fill="#f03250"/>
<rect x="680" y="443" width="1" height="22" fill="#f03250"/>
<rect x="689" y="450" width="1" height="15" fill="#f03250"/>
<rect x="698" y="457" width="1" height="8" fill="#f03250"/>
<rect x="707" y="454" width="1" height="11" fill="#f03250"/>
<rect x="716" y="455" width="1" height="10" fill="#f03250"/>
<rect x="725" y="451" width="1" height="14" fill="#f03250"/>
<rect x="734" y="457" width="1" height="8" fill="#f03250"/>
<rect x="743" y="457" width="1" height="8" fill="#f03250"/>
<rect x="752" y="459" width="1" height="6" fill="#f03250"/>
<rect x="761" y="457" width="1" height="8" fill="#f03250"/>
<rect x="770" y="456" width="1" height="9" fill="#f03250"/>
<rect x="779" y="456" width="1" height="9" fill="#f03250"/>
<rect x="788" y="457" width="1" height="8" fill="#f03250"/>
<rect x="797" y="456" width="1" height="9" fill="#f03250"/>
<rect x="806" y="452" width="1" height="13" fill="#f03250"/>
<rect x="815" y="451" width="1" height="14" fill="#f03250"/>
<rect x="824" y="448" width="1" height="17" fill="#f03250"/>
<rect x="833" y="448" width="1" height="17" fill="#f03250"/>
<rect x="842" y="446" width="1" height="19" fill="#f03250"/>
<rect x="851" y="441" width="1" height="24" fill="#f03250"/>
<rect x="860" y="436" width="1" height="29" fill="#f03250"/>
<rect x="869" y="438" width="1" height="27" fill="#f03250"/>
<rect x="878" y="438" width="1" height="27" fill="#f03250"/>
<rect x="887" y="445" width="1" height="20" fill="#f03250"/>
<rect x="896" y="450" width="1" height="15" fill="#f03250"/>
</g>
<g shape-rendering="crispEdges">
<polyline points="95.5,413.1 104.5,413.3 113.5,414.3 122.5,416.4 131.5,418.9 140.5,423.9 149.5,430.2 158.5,436.4 167.5,442.7 176.5,447.7 185.5,452.8 194.5,457.3 203.5,459.8 212.5,461.5 221.5,463.3 230.5,463.3 239.5,462.3 248.5,461.5 257.5,461.5 266.5,462.3 275.5,464.0 284.5,465.8 293.5,467.8 302.5,470.3 311.5,472.8 320.5,476.6 329.5,480.0 338.5,483.4 347.5,486.1 356.5,489.6 365.5,493.7 374.5,498.4 383.5,502.5 392.5,504.2 401.5,506.2 410.5,508.0 419.5,511.0 428.5,513.5 437.5,514.2 446.5,513.0 455.5,512.5 464.5,512.2 473.5,511.7 482.5,510.5 491.5,509.2 500.5,508.0 509.5,506.2 518.5,506.0 527.5,506.0 536.5,506.7 545.5,508.5 554.5,510.8 563.5,511.5 572.5,513.0 581.5,514.2 590.5,515.0 599.5,514.7 608.5,514.7 617.5,513.5 626.5,510.5 635.5,507.5 644.5,505.0 653.5,501.2 662.5,497.4 671.5,494.7 680.5,491.7 689.5,490.4 698.5,488.6 707.5,487.1 716.5,486.1 725.5,484.9 734.5,484.1 743.5,482.9 752.5,482.1 761.5,480.9 770.5,479.9 779.5,479.1 788.5,478.4 797.5,477.6 806.5,475.3 815.5,474.1 824.5,472.3 833.5,469.8 842.5,467.8 851.5,465.3 860.5,462.8 869.5,459.5 878.5,455.3 887.5,452.8 896.5,450.2" fill="none" stroke="#dcdc14" stroke-width="1" />
<polyline points="95.5,413.1 104.5,414.3 113.5,417.6 122.5,422.6 131.5,427.7 140.5,439.0 149.5,451.5 158.5,462.3 167.5,464.5 176.5,466.0 185.5,471.6 194.5,476.6 203.5,472.8 212.5,470.3 221.5,467.8 230.5,464.0 239.5,459.0 248.5,457.8 257.5,461.5 266.5,466.6 275.5,470.3 284.5,474.6 293.5,475.3 302.5,479.9 311.5,485.4 320.5,490.4 329.5,490.4 338.5,493.7 347.5,495.4 356.5,501.7 365.5,510.0 374.5,516.8 383.5,518.0 392.5,516.3 401.5,514.2 410.5,515.5 419.5,520.0 428.5,520.0 437.5,516.8 446.5,513.0 455.5,511.0 464.5,509.2 473.5,509.2 482.5,508.5 491.5,505.5 500.5,501.2 509.5,500.9 518.5,502.2 527.5,504.2 536.5,507.5 545.5,513.5 554.5,518.0 563.5,518.0 572.5,517.5 581.5,520.0 590.5,520.0 599.5,516.3 608.5,513.0 617.5,508.0 626.5,500.9 635.5,495.9 644.5,491.7 653.5,488.4 662.5,482.9 671.5,480.4 680.5,481.6 689.5,482.9 698.5,485.4 707.5,483.4 716.5,482.1 725.5,478.4 734.5,480.4 743.5,479.1 752.5,480.2 761.5,478.2 770.5,476.6 779.5,475.5 788.5,475.3 797.5,474.1 806.5,470.3 815.5,467.8 824.5,464.5 833.5,462.0 842.5,459.0 851.5,454.0 860.5,448.5 869.5,445.2 878.5,442.2 887.5,443.5 896.5,444.7" fill="none" stroke="#f0f0f0" stroke-width="1" />
<polyline points="95.5,574.8 104.5,582.8 113.5,594.1 122.5,615.4 131.5,617.9 140.5,626.7 149.5,631.7 158.5,628.0 167.5,612.9 176.5,603.4 185.5,609.1 194.5,610.4 203.5,581.5 212.5,569.0 221.5,552.7 230.5,551.4 239.5,544.4 248.5,556.4 257.5,576.5 266.5,602.9 275.5,605.4 284.5,616.7 293.5,610.4 302.5,621.7 311.5,625.5 320.5,628.3 329.5,615.4 338.5,617.9 347.5,617.2 356.5,624.2 365.5,623.0 374.5,621.7 383.5,607.9 392.5,595.8 401.5,591.1 410.5,600.4 419.5,612.4 428.5,596.6 437.5,575.8 446.5,563.2 455.5,566.5 464.5,571.0 473.5,584.0 482.5,589.1 491.5,576.5 500.5,561.5 509.5,585.3 518.5,610.4 527.5,621.7 536.5,631.2 545.5,632.5 554.5,630.0 563.5,617.9 572.5,611.7 581.5,617.9 590.5,611.2 599.5,590.3 608.5,576.5 617.5,564.0 626.5,546.4 635.5,548.9 644.5,551.4 653.5,556.4 662.5,552.2 671.5,565.2 680.5,590.3 689.5,615.4 698.5,627.5 707.5,606.6 716.5,599.1 725.5,583.3 734.5,599.1 743.5,594.6 752.5,595.3 761.5,578.4 770.5,577.0 779.5,580.0 788.5,592.3 797.5,587.8 806.5,573.5 815.5,571.0 824.5,561.5 833.5,558.4 842.5,553.2 851.5,548.9 860.5,546.4 869.5,558.9 878.5,564.0 887.5,582.3 896.5,586.6" fill="none" stroke="#e61ee6" stroke-width="1" />
<polyline points="95.5,581.5 104.5,581.5 113.5,583.5 122.5,587.3 131.5,591.6 140.5,596.6 149.5,600.9 158.5,604.9 167.5,605.9 176.5,605.9 185.5,606.1 194.5,607.1 203.5,603.4 212.5,598.4 221.5,592.1 230.5,586.6 239.5,580.8 248.5,576.5 257.5,576.5 266.5,580.3 275.5,584.0 284.5,588.6 293.5,592.3 302.5,596.1 311.5,600.4 320.5,604.6 329.5,606.1 338.5,607.4 347.5,609.1 356.5,611.2 365.5,613.4 374.5,614.7 383.5,612.9 392.5,610.4 401.5,607.9 410.5,607.1 419.5,607.9 428.5,605.4 437.5,601.6 446.5,596.6 455.5,592.3 464.5,589.6 473.5,588.3 482.5,589.1 491.5,587.1 500.5,583.5 509.5,583.3 518.5,587.8 527.5,592.3 536.5,598.4 545.5,603.6 554.5,607.4 563.5,608.6 572.5,609.9 581.5,610.4 590.5,610.4 599.5,607.4 608.5,602.9 617.5,597.9 626.5,590.8 635.5,584.5 644.5,579.5 653.5,576.5 662.5,573.3 671.5,572.2 680.5,574.0 689.5,580.3 698.5,587.3 707.5,589.8 716.5,591.1 725.5,590.8 734.5,590.8 743.5,591.6 752.5,592.1 761.5,590.0 770.5,588.4 779.5,587.3 788.5,588.0 797.5,588.3 806.5,586.0 815.5,583.5 824.5,580.3 833.5,577.0 842.5,574.0 851.5,570.2 860.5,567.2 869.5,566.0 878.5,564.7 887.5,567.0 896.5,570.2" fill="none" stroke="#dcdc14" stroke-width="1" />
<polyline points="95.5,579.0 104.5,581.5 113.5,587.8 122.5,597.3 131.5,600.4 140.5,606.6 149.5,610.9 158.5,613.4 167.5,609.1 176.5,604.9 185.5,606.6 194.5,607.4 203.5,596.6 212.5,587.8 221.5,579.0 230.5,574.5 239.5,568.5 248.5,569.0 257.5,576.5 266.5,587.8 275.5,591.6 284.5,598.4 293.5,598.4 302.5,604.1 311.5,608.6 320.5,612.0 329.5,609.1 338.5,611.2 347.5,611.7 356.5,614.9 365.5,616.7 374.5,617.4 383.5,612.2 392.5,606.6 401.5,602.4 410.5,604.9 419.5,608.6 428.5,602.9 437.5,592.8 446.5,585.3 455.5,583.3 464.5,583.3 473.5,586.6 482.5,589.1 491.5,583.5 500.5,576.5 509.5,584.0 518.5,595.3 527.5,602.9 536.5,610.4 545.5,613.7 554.5,614.2 563.5,611.7 572.5,609.9 581.5,612.9 590.5,610.4 599.5,601.6 608.5,594.1 617.5,586.6 626.5,575.3 635.5,572.0 644.5,570.2 653.5,569.7 662.5,566.0 671.5,569.0 680.5,579.0 689.5,590.3 698.5,600.4 707.5,596.6 716.5,594.1 725.5,589.1 734.5,591.6 743.5,592.1 752.5,592.6 761.5,586.6 770.5,584.0 779.5,584.3 788.5,589.1 797.5,588.3 806.5,582.8 815.5,579.0 824.5,574.0 833.5,570.7 842.5,567.0 851.5,563.2 860.5,560.2 869.5,562.7 878.5,564.0 887.5,571.5 896.5,576.5" fill="none" stroke="#f0f0f0" stroke-width="1" />
</g>
<text x="92.0" y="13.6" fill="#ffffff" font-size="12">美原油连续</text>
<text x="152.0" y="13.6" fill="#f0a030" font-size="12">【日线】</text>
<g shape-rendering="crispEdges"><path d="M208.5 14.5H219.5V2.5" stroke="#808080" fill="none"/><rect x="207.5" y="1.5" width="11" height="12" fill="#fff" stroke="#000080"/></g>
<path d="M208.3 8.7L211.5 4.5L214.5 7.6L216.5 5.5H218" stroke="#ff0000" stroke-width="1.1" fill="none"/><path d="M208.3 11.7L211.5 7.5L214.5 10.6L216.5 8.5H218" stroke="#0000ff" stroke-width="1.1" fill="none"/>
<text x="223.0" y="14.0" fill="#ffffff" font-size="12.4" textLength="132.5" lengthAdjust="spacingAndGlyphs">MA(5,10,21,55,100,200)</text>
<text x="361.0" y="14.0" fill="#ffffff" font-size="12.4" textLength="59.5" lengthAdjust="spacingAndGlyphs">MA5:76.99</text>
<text x="430.0" y="14.0" fill="#dcdc14" font-size="12.4" textLength="65.5" lengthAdjust="spacingAndGlyphs">MA10:76.01</text>
<text x="505.8" y="14.0" fill="#e61ee6" font-size="12.4" textLength="66.2" lengthAdjust="spacingAndGlyphs">MA21:74.17</text>
<text x="581.9" y="14.0" fill="#22d022" font-size="12.4" textLength="66.1" lengthAdjust="spacingAndGlyphs">MA55:73.79</text>
<text x="658.0" y="14.0" fill="#8c8c8c" font-size="12.4" textLength="73.0" lengthAdjust="spacingAndGlyphs">MA100:79.09</text>
<text x="740.8" y="14.0" fill="#f03030" font-size="12.4" textLength="49.5" lengthAdjust="spacingAndGlyphs">MA200:7</text>
<path d="M799 1.5l5 5h-3v5h-4v-5h-3z" fill="#ff1010" stroke="#fff" stroke-width="0.8"/>
<g shape-rendering="crispEdges" fill="none" stroke="#b8b8b8">
<rect x="863.5" y="1.5" width="13" height="13"/>
<rect x="879.5" y="1.5" width="13" height="13"/>
<rect x="895.5" y="1.5" width="13" height="13"/>
<rect x="911.5" y="1.5" width="13" height="13"/>
<path d="M870.5 4v3M870.5 10v3M866 8.5h3M872 8.5h3"/>
<path d="M883.5 4v9M882 11.5h9"/><path d="M899.5 4v9M898 11.5h9"/>
<path d="M914.5 4.5h3v8h-3zM917 8.5h5"/>
</g>
<path d="M890 5v5l-3.5-2.5z M887 5v5h-1v-5z" fill="#b8b8b8"/><path d="M902 4.5v6l4.5-3z" fill="#b8b8b8"/><path d="M920 6l2.5 2.5-2.5 2.5z" fill="#b8b8b8"/>
<text x="92.8" y="405.0" fill="#ffffff" font-size="12.4" textLength="84.5" lengthAdjust="spacingAndGlyphs">MACD(26,12,9)</text>
<text x="182.0" y="405.0" fill="#ffffff" font-size="12.4" textLength="52.0" lengthAdjust="spacingAndGlyphs">DIFF:0.98</text>
<text x="243.0" y="405.0" fill="#dcdc14" font-size="12.4" textLength="50.0" lengthAdjust="spacingAndGlyphs">DEA:0.62</text>
<text x="301.5" y="405.0" fill="#e61ee6" font-size="12.4" textLength="63.5" lengthAdjust="spacingAndGlyphs">MACD:0.72</text>
<text x="92.8" y="536.0" fill="#ffffff" font-size="12.4" textLength="55.5" lengthAdjust="spacingAndGlyphs">KDJ(9,3,3)</text>
<text x="153.5" y="536.0" fill="#ffffff" font-size="12.4" textLength="40.5" lengthAdjust="spacingAndGlyphs">K:66.21</text>
<text x="203.5" y="536.0" fill="#dcdc14" font-size="12.4" textLength="42.5" lengthAdjust="spacingAndGlyphs">D:73.82</text>
<text x="254.5" y="536.0" fill="#e61ee6" font-size="12.4" textLength="38.5" lengthAdjust="spacingAndGlyphs">J:51.00</text>
<g><circle cx="28.7" cy="528.9" r="3.1" fill="#fff"/><circle cx="28.7" cy="528.9" r="1.9" fill="#f01010"/>
<path d="M33.7 528.9L35.7 528.9M32.2 532.4L33.6 533.8M28.7 533.9L28.7 535.9M25.2 532.4L23.8 533.8M23.7 528.9L21.7 528.9M25.2 525.4L23.8 524.0M28.7 523.9L28.7 521.9M32.2 525.4L33.6 524.0" stroke="#f01010" stroke-width="1"/></g>
<text x="124.1" y="645.6" fill="#a6aab6" font-size="12" font-weight="bold">2023/10</text>
<text x="322.1" y="645.6" fill="#a6aab6" font-size="12" font-weight="bold">2023/11</text>
<text x="520.1" y="645.6" fill="#a6aab6" font-size="12" font-weight="bold">2023/12</text>
<text x="700.1" y="645.6" fill="#a6aab6" font-size="12" font-weight="bold">2024/01</text>
<text x="34.0" y="648.6" fill="#f5b342" font-size="12.5" font-weight="bold">日线</text>
<path d="M65 648.3l4.2-8 4.2 8z" fill="#f5b342"/>
<g shape-rendering="crispEdges">
<rect x="20" y="653" width="976" height="16" fill="#0c0c0c"/>
<rect x="100" y="653" width="57" height="16" fill="#3d404d"/>
<path d="M20 653.5H996" stroke="#2a2a2a"/>
<path d="M59.5 654V669 M99.5 654V669 M157.5 654V669 M233.5 654V669 M292.5 654V669 M349.5 654V669 M401.5 654V669 M453.5 654V669 M523.5 654V669 M569.5 654V669 M621.5 654V669 M667.5 654V669 M725.5 654V669 M777.5 654V669 M805.5 654V669" stroke="#303030"/>
<rect x="806.5" y="654.5" width="189" height="14" fill="#0a0a0a" stroke="#262626"/>
</g>
<text x="27.5" y="665.8" fill="#bebebe" font-size="12">指标</text>
<text x="67.5" y="665.8" fill="#bebebe" font-size="12">模板</text>
<text x="108.0" y="665.2" fill="#fff" font-size="11" textLength="17.5" lengthAdjust="spacingAndGlyphs" style="font-family:'Liberation Serif'">VIP</text>
<text x="126.0" y="665.8" fill="#ffffff" font-size="12">指标</text>
<text x="165.7" y="665.2" fill="#bebebe" font-size="11" textLength="59.5" lengthAdjust="spacingAndGlyphs" style="font-family:'Liberation Serif'">BARUPDN_UD</text>
<text x="242.0" y="665.2" fill="#bebebe" font-size="11" textLength="41.5" lengthAdjust="spacingAndGlyphs" style="font-family:'Liberation Serif'">BIAS_UD</text>
<text x="300.0" y="665.2" fill="#bebebe" font-size="11" textLength="41.5" lengthAdjust="spacingAndGlyphs" style="font-family:'Liberation Serif'">BOLL_UD</text>
<text x="357.6" y="665.2" fill="#bebebe" font-size="11" textLength="35.5" lengthAdjust="spacingAndGlyphs" style="font-family:'Liberation Serif'">CCI_UD</text>
<text x="409.5" y="665.2" fill="#bebebe" font-size="11" textLength="35.5" lengthAdjust="spacingAndGlyphs" style="font-family:'Liberation Serif'">DMI_UD</text>
<text x="461.5" y="665.2" fill="#bebebe" font-size="11" textLength="53.5" lengthAdjust="spacingAndGlyphs" style="font-family:'Liberation Serif'">INSIDE_UD</text>
<text x="531.5" y="665.2" fill="#bebebe" font-size="11" textLength="29.5" lengthAdjust="spacingAndGlyphs" style="font-family:'Liberation Serif'">KD_UD</text>
<text x="578.0" y="665.2" fill="#bebebe" font-size="11" textLength="35.5" lengthAdjust="spacingAndGlyphs" style="font-family:'Liberation Serif'">KDJ_UD</text>
<text x="630.0" y="665.2" fill="#bebebe" font-size="11" textLength="29.5" lengthAdjust="spacingAndGlyphs" style="font-family:'Liberation Serif'">MA_UD</text>
<text x="675.5" y="665.2" fill="#bebebe" font-size="11" textLength="41.5" lengthAdjust="spacingAndGlyphs" style="font-family:'Liberation Serif'">MACD_UD</text>
<text x="733.5" y="665.2" fill="#bebebe" font-size="11" textLength="35.5" lengthAdjust="spacingAndGlyphs" style="font-family:'Liberation Serif'">MTM_UD</text>
<text x="786.0" y="665.2" fill="#bebebe" font-size="11" textLength="11.5" lengthAdjust="spacingAndGlyphs" style="font-family:'Liberation Serif'">&gt;&gt;</text>
</svg>
</body></html>
